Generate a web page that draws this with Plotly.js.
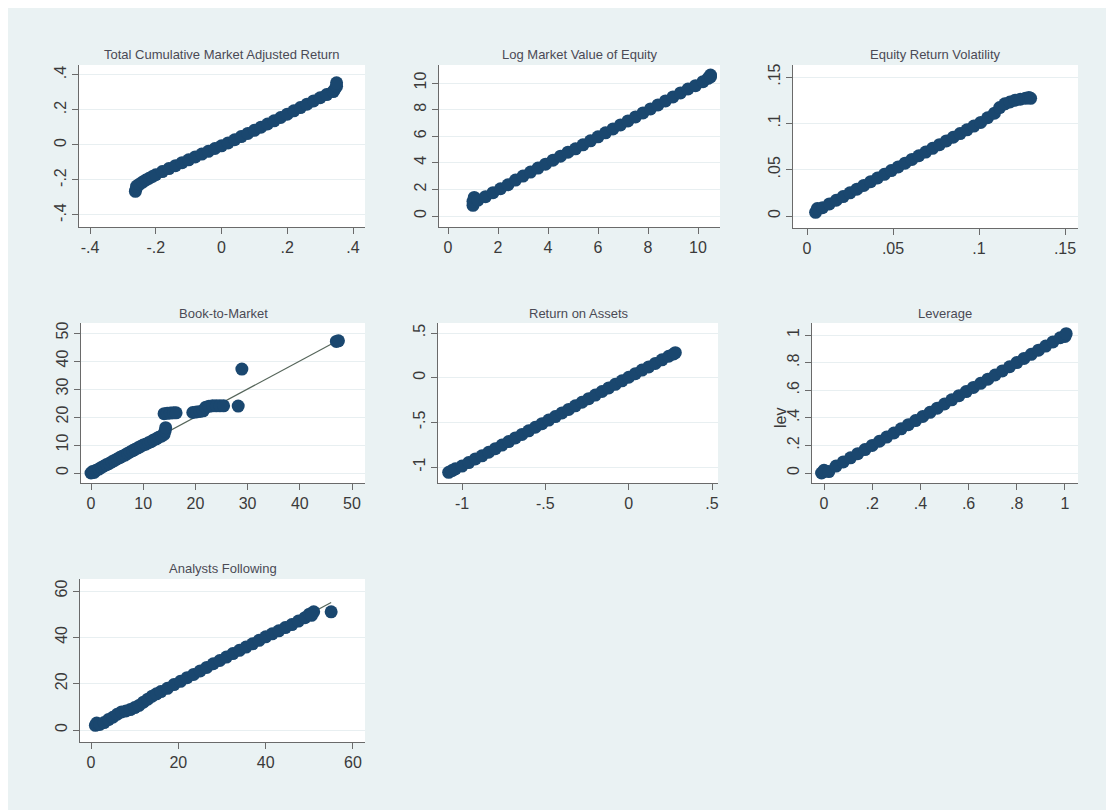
<!DOCTYPE html>
<html>
<head>
<meta charset="utf-8">
<script src="https://cdn.plot.ly/plotly-3.0.1.min.js"></script>
<style>
  html, body { margin: 0; padding: 0; background: #ffffff; }
  #chart { position: absolute; left: 8px; top: 8px; width: 1098px; height: 802px; }
</style>
</head>
<body>
<div id="chart"></div>
<script>
// ---------------- DATA ----------------
const panelTitles = [
  "Total Cumulative Market Adjusted Return",
  "Log Market Value of Equity",
  "Equity Return Volatility",
  "Book-to-Market",
  "Return on Assets",
  "Leverage",
  "Analysts Following"
];

// Panel 1: Total Cumulative Market Adjusted Return
const tcmarX = [-0.262,-0.26,-0.258,-0.25,-0.24,-0.23,-0.22,-0.21,-0.20,-0.18,-0.16,-0.14,-0.12,-0.10,-0.08,-0.06,-0.04,-0.02,0.00,0.02,0.04,0.06,0.08,0.10,0.12,0.14,0.16,0.18,0.20,0.22,0.24,0.26,0.28,0.30,0.32,0.34,0.345,0.35,0.35];
const tcmarY = [-0.265,-0.25,-0.235,-0.225,-0.212,-0.2,-0.19,-0.18,-0.17,-0.152,-0.135,-0.118,-0.101,-0.085,-0.068,-0.052,-0.036,-0.02,-0.005,0.012,0.03,0.048,0.066,0.084,0.102,0.12,0.138,0.157,0.176,0.195,0.214,0.233,0.252,0.27,0.288,0.305,0.32,0.335,0.355];

// Panel 2: Log Market Value of Equity
const mveX = [1.0,1.0,1.05,1.2,1.5,1.8,2.1,2.4,2.7,3.0,3.3,3.6,3.9,4.2,4.5,4.8,5.1,5.4,5.7,6.0,6.3,6.6,6.9,7.2,7.5,7.8,8.1,8.4,8.7,9.0,9.3,9.6,9.9,10.2,10.4,10.5,10.5];
const mveY = [0.8,1.1,1.4,1.2,1.45,1.75,2.05,2.35,2.7,3.0,3.3,3.6,3.9,4.2,4.5,4.8,5.05,5.35,5.65,5.95,6.25,6.55,6.85,7.15,7.45,7.75,8.05,8.35,8.65,8.95,9.25,9.55,9.8,10.1,10.35,10.6,10.45];

// Panel 3: Equity Return Volatility
const volX = [0.005,0.006,0.009,0.013,0.017,0.021,0.025,0.029,0.033,0.037,0.041,0.045,0.049,0.053,0.057,0.061,0.065,0.069,0.073,0.077,0.081,0.085,0.089,0.093,0.097,0.101,0.105,0.109,0.112,0.115,0.118,0.121,0.124,0.127,0.129,0.130];
const volY = [0.004,0.008,0.009,0.013,0.017,0.021,0.025,0.029,0.033,0.037,0.041,0.045,0.049,0.053,0.057,0.061,0.065,0.069,0.073,0.077,0.081,0.085,0.089,0.093,0.097,0.101,0.106,0.111,0.117,0.121,0.123,0.125,0.126,0.127,0.128,0.127];

// Panel 4: Book-to-Market
const btmX = [0,0.3,0.6,1,1.5,2,2.5,3,3.5,4,4.5,5,5.5,6,6.5,7,7.5,8,8.5,9,9.5,10,10.5,11,11.5,12,12.5,13,13.5,14,14.2,14.3,14.0,14.6,15.2,15.8,16.3,19.5,20.2,20.9,21.5,22.0,22.6,23.3,24.0,24.7,25.4,28.2,28.9,47.0,47.4];
const btmY = [0,0.5,0.2,1,1.4,2,2.5,3,3.4,4,4.5,5,5.5,6,6.4,7,7.5,8,8.5,9,9.5,10,10.3,10.8,11.2,11.8,12.2,12.8,13.2,13.8,15.0,16.2,21.2,21.3,21.4,21.5,21.5,21.6,21.8,22.0,22.2,23.5,23.8,24.0,24.0,24.0,24.0,23.9,37.1,47.0,47.2];

// Panel 5: Return on Assets
const roaX = [-1.08,-1.06,-1.04,-1.0,-0.96,-0.92,-0.88,-0.84,-0.80,-0.76,-0.72,-0.68,-0.64,-0.60,-0.56,-0.52,-0.48,-0.44,-0.40,-0.36,-0.32,-0.28,-0.24,-0.20,-0.16,-0.12,-0.08,-0.04,0.00,0.04,0.08,0.12,0.16,0.20,0.24,0.27,0.28];
const roaY = [-1.06,-1.04,-1.02,-0.99,-0.95,-0.91,-0.875,-0.835,-0.795,-0.755,-0.715,-0.675,-0.635,-0.595,-0.555,-0.515,-0.475,-0.435,-0.395,-0.355,-0.315,-0.275,-0.235,-0.195,-0.155,-0.115,-0.075,-0.035,0.005,0.045,0.085,0.12,0.16,0.20,0.24,0.265,0.28];

// Panel 6: Leverage
const levX = [-0.01,0.0,0.02,0.05,0.08,0.11,0.14,0.17,0.20,0.23,0.26,0.29,0.32,0.35,0.38,0.41,0.44,0.47,0.50,0.53,0.56,0.59,0.62,0.65,0.68,0.71,0.74,0.77,0.80,0.83,0.86,0.89,0.92,0.95,0.98,1.0,1.005];
const levY = [0.0,0.02,0.01,0.05,0.08,0.11,0.14,0.17,0.20,0.23,0.26,0.29,0.32,0.35,0.38,0.41,0.44,0.47,0.50,0.53,0.56,0.59,0.62,0.65,0.68,0.71,0.74,0.77,0.80,0.83,0.86,0.89,0.92,0.95,0.98,0.99,1.01];

// Panel 7: Analysts Following
const anaX = [1,1.3,2,3,4,5,6,7,8,9,10,11,12,13,14,15,16,17.5,19,20.5,22,23.5,25,26.5,28,29.5,31,32.5,34,35.5,37,38.5,40,41.5,43,44.5,46,47.5,49,50,51,50.5,55];
const anaY = [2,3,2.4,3.2,4.5,5.5,6.8,7.8,8.2,8.8,9.7,10.6,12,13.3,14.6,15.6,16.6,18,19.6,21,22.6,24,25.5,27,28.6,30,31.5,33,34.4,35.8,37.2,38.7,40.2,41.5,42.8,44.2,45.5,47,48.5,50,51,49.5,51];
const anaLineEnd = 55; // reference line reaches (55,55)

// Axis ticks
const t1x = [-0.4,-0.2,0,0.2,0.4],  t1xl = ["-.4","-.2","0",".2",".4"];
const t1y = [-0.4,-0.2,0,0.2,0.4],  t1yl = ["-.4","-.2","0",".2",".4"];
const t2x = [0,2,4,6,8,10],         t2xl = ["0","2","4","6","8","10"];
const t2y = [0,2,4,6,8,10],         t2yl = ["0","2","4","6","8","10"];
const t3x = [0,0.05,0.1,0.15],      t3xl = ["0",".05",".1",".15"];
const t3y = [0,0.05,0.1,0.15],      t3yl = ["0",".05",".1",".15"];
const t4x = [0,10,20,30,40,50],     t4xl = ["0","10","20","30","40","50"];
const t4y = [0,10,20,30,40,50],     t4yl = ["0","10","20","30","40","50"];
const t5x = [-1,-0.5,0,0.5],        t5xl = ["-1","-.5","0",".5"];
const t5y = [-1,-0.5,0,0.5],        t5yl = ["-1","-.5","0",".5"];
const t6x = [0,0.2,0.4,0.6,0.8,1],  t6xl = ["0",".2",".4",".6",".8","1"];
const t6y = [0,0.2,0.4,0.6,0.8,1],  t6yl = ["0",".2",".4",".6",".8","1"];
const t7x = [0,20,40,60],           t7xl = ["0","20","40","60"];
const t7y = [0,20,40,60],           t7yl = ["0","20","40","60"];
const levAxisTitle = "lev";

// ---------------- LAYOUT / STYLE ----------------
const W = 1098, H = 802, OFF = 8;
const dx = px => (px - OFF) / W;
const dy = py => 1 - (py - OFF) / H;

const NAVY = "#1a476f";
const LINECOL = "#55655a";
const AXCOL = "#6a6a6a";
const FONT = "Liberation Sans, Arial, sans-serif";

const panels = [
  {x: tcmarX, y: tcmarY, tx: t1x, txl: t1xl, ty: t1y, tyl: t1yl, px: [79,365], py: [65,227], xr: [-0.4335,0.4365], yr: [-0.4686,0.457], ty0: 55},
  {x: mveX,   y: mveY,   tx: t2x, txl: t2xl, ty: t2y, tyl: t2yl, px: [439,720], py: [65,227], xr: [-0.36,10.88], yr: [-0.827,11.353], ty0: 55},
  {x: volX,   y: volY,   tx: t3x, txl: t3xl, ty: t3y, tyl: t3yl, px: [793,1078], py: [65,228], xr: [-0.00814,0.15756], yr: [-0.01295,0.16295], ty0: 55},
  {x: btmX,   y: btmY,   tx: t4x, txl: t4xl, ty: t4y, tyl: t4yl, px: [81,365], py: [323,483], xr: [-1.916,52.49], yr: [-3.57,53.57], ty0: 313},
  {x: roaX,   y: roaY,   tx: t5x, txl: t5xl, ty: t5y, tyl: t5yl, px: [438,718], py: [323,483], xr: [-1.144,0.536], yr: [-1.179,0.612], ty0: 313},
  {x: levX,   y: levY,   tx: t6x, txl: t6xl, ty: t6y, tyl: t6yl, px: [812,1078], py: [323,483], xr: [-0.0498,1.054], yr: [-0.0725,1.087], ty0: 313},
  {x: anaX,   y: anaY,   tx: t7x, txl: t7xl, ty: t7y, tyl: t7yl, px: [80,365], py: [579,742], xr: [-2.52,62.75], yr: [-5.18,65.18], ty0: 568, lineMax: anaLineEnd}
];

const traces = [];
const layout = {
  width: W, height: H,
  margin: {l: 0, r: 0, t: 0, b: 0},
  paper_bgcolor: "#eaf2f3",
  plot_bgcolor: "#ffffff",
  showlegend: false,
  font: {family: FONT, color: "#3c3c3c"},
  annotations: []
};

panels.forEach((p, i) => {
  const n = i + 1;
  const xa = n === 1 ? "x" : "x" + n;
  const ya = n === 1 ? "y" : "y" + n;
  const hi = p.lineMax !== undefined ? p.lineMax : Math.max(...p.x);
  const loL = Math.min(...p.x);
  traces.push({
    type: "scatter", mode: "lines", x: [loL, hi], y: [loL, hi],
    xaxis: xa, yaxis: ya, line: {color: LINECOL, width: 1.2}, hoverinfo: "skip"
  });
  traces.push({
    type: "scatter", mode: "markers", x: p.x, y: p.y,
    xaxis: xa, yaxis: ya,
    marker: {color: NAVY, size: 13, line: {width: 0}}
  });
  const xkey = n === 1 ? "xaxis" : "xaxis" + n;
  const ykey = n === 1 ? "yaxis" : "yaxis" + n;
  layout[xkey] = {
    domain: [dx(p.px[0]), dx(p.px[1])], anchor: ya, range: p.xr,
    tickmode: "array", tickvals: p.tx, ticktext: p.txl,
    showgrid: false, zeroline: false, showline: true, linecolor: AXCOL, linewidth: 1,
    ticks: "outside", ticklen: 6, tickcolor: AXCOL, tickwidth: 1,
    tickfont: {size: 16, color: "#3a3a3a", family: FONT}, fixedrange: true
  };
  layout[ykey] = {
    domain: [dy(p.py[1]), dy(p.py[0])], anchor: xa, range: p.yr,
    tickmode: "array", tickvals: p.ty, ticktext: p.tyl, tickangle: -90,
    showgrid: true, gridcolor: "#e8eff1", gridwidth: 1,
    zeroline: false, showline: true, linecolor: AXCOL, linewidth: 1,
    ticks: "outside", ticklen: 6, tickcolor: AXCOL, tickwidth: 1,
    tickfont: {size: 16, color: "#3a3a3a", family: FONT}, fixedrange: true
  };
  layout.annotations.push({
    text: panelTitles[i], xref: "paper", yref: "paper",
    x: dx((p.px[0] + p.px[1]) / 2), y: dy(p.ty0),
    xanchor: "center", yanchor: "middle", showarrow: false,
    font: {size: 13, color: "#4a4a55", family: FONT}
  });
});

layout.annotations.push({
  text: levAxisTitle, xref: "paper", yref: "paper",
  x: dx(780), y: dy(418), xanchor: "center", yanchor: "middle",
  textangle: -90, showarrow: false,
  font: {size: 16, color: "#3a3a3a", family: FONT}
});

Plotly.newPlot("chart", traces, layout, {displayModeBar: false, staticPlot: true});
</script>
</body>
</html>
